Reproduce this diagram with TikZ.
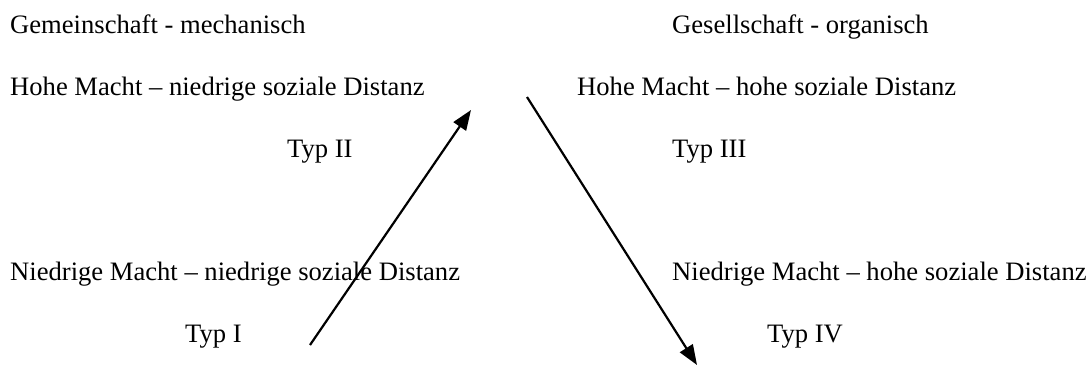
\documentclass[tikz,border=0pt]{standalone}
\usepackage{fontspec}
\setmainfont{Liberation Serif}
\usetikzlibrary{arrows.meta}
\begin{document}
\begin{tikzpicture}[x=1pt,y=-1pt,
  lbl/.style={anchor=base west,inner sep=0pt,font=\fontsize{26.6}{30}\selectfont},
  arr/.style={line width=2.2pt,-{Triangle[length=20pt,width=15pt]}}]
\useasboundingbox (0,0) rectangle (1087,365);
\node[lbl] (gem) at (10,33) {Gemeinschaft - mechanisch};
\node[lbl] (ges) at (672,33) {Gesellschaft - organisch};
\node[lbl] (hn) at (10,95) {Hohe Macht – niedrige soziale Distanz};
\node[lbl] (hh) at (577,95) {Hohe Macht – hohe soziale Distanz};
\node[lbl] (t2) at (287,157) {Typ II};
\node[lbl] (t3) at (672,157) {Typ III};
\node[lbl] (nn) at (10,280) {Niedrige Macht – niedrige soziale Distanz};
\node[lbl] (nh) at (672,280) {Niedrige Macht – hohe soziale Distanz};
\node[lbl] (t1) at (185,342) {Typ I};
\node[lbl] (t4) at (767,342) {Typ IV};
\coordinate (a1s) at (310,345);
\coordinate (a1e) at (471,110);
\coordinate (a2s) at (527,97);
\coordinate (a2e) at (697,365);
\draw[arr] (a1s) -- (a1e);
\draw[arr] (a2s) -- (a2e);
\end{tikzpicture}
\end{document}
